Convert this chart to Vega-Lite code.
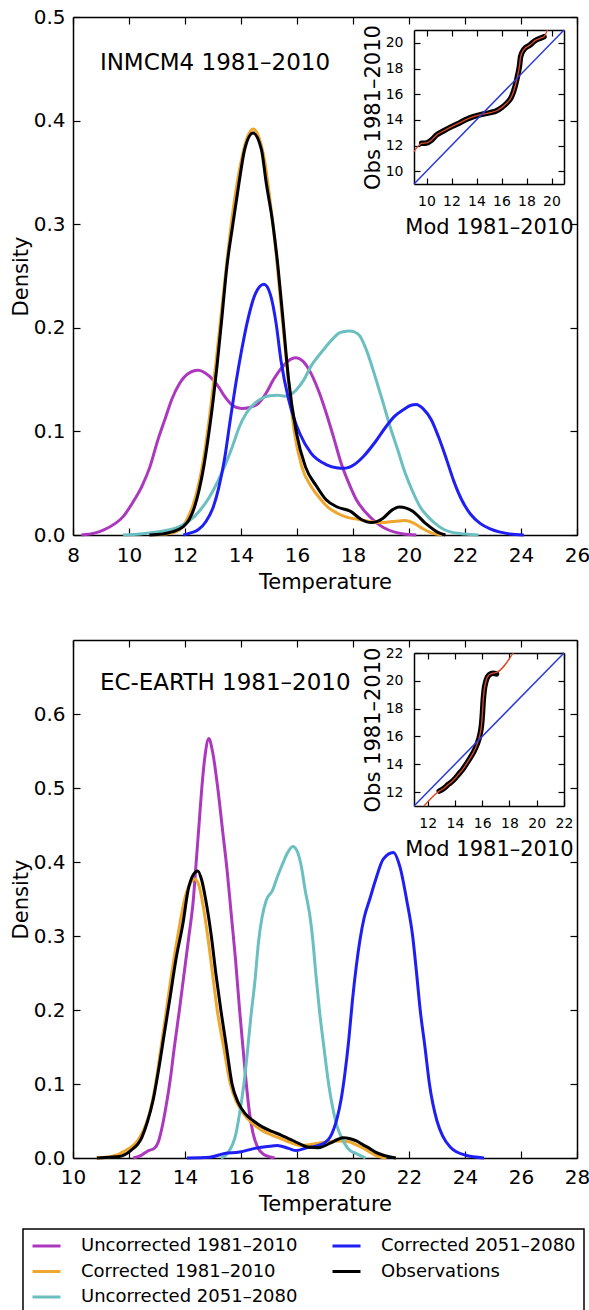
{
"$schema": "https://vega.github.io/schema/vega-lite/v6.json",
"width": 589, "height": 1310, "autosize": "none", "padding": 0, "background": "white",
"config": {
  "view": {"stroke": null},
  "axis": {"domainColor": "black", "domainWidth": 1.5, "tickColor": "black", "tickWidth": 1.2, "tickSize": -7, "labelColor": "black", "labelFont": "DejaVu Sans", "labelFontSize": 20, "titleFont": "DejaVu Sans", "titleFontSize": 21, "titleFontWeight": "normal", "titleColor": "black", "grid": false, "labelFlush": false, "labelOverlap": false},
  "legend": {"orient": "none", "legendX": 23, "legendY": 1229, "title": null, "columns": 2, "columnPadding": 33, "rowPadding": 7.5, "padding": 8, "clipHeight": 18,
             "strokeColor": "black", "strokeWidth": 1.5, "fillColor": "white", "symbolType": "stroke", "symbolSize": 784, "symbolStrokeWidth": 3,
             "labelFont": "DejaVu Sans", "labelFontSize": 18, "labelColor": "black", "labelOffset": 19, "labelLimit": 400}
},
"datasets": {
  "inm": [
    {"series":"Uncorrected 1981–2010","temp":8.3,"density":0},{"series":"Uncorrected 1981–2010","temp":8.8,"density":0.002},{"series":"Uncorrected 1981–2010","temp":9.1,"density":0.005},{"series":"Uncorrected 1981–2010","temp":9.5,"density":0.011},{"series":"Uncorrected 1981–2010","temp":9.8,"density":0.018},{"series":"Uncorrected 1981–2010","temp":10.1,"density":0.03},{"series":"Uncorrected 1981–2010","temp":10.46,"density":0.047},{"series":"Uncorrected 1981–2010","temp":10.75,"density":0.066},{"series":"Uncorrected 1981–2010","temp":11.0,"density":0.089},{"series":"Uncorrected 1981–2010","temp":11.3,"density":0.113},{"series":"Uncorrected 1981–2010","temp":11.53,"density":0.131},{"series":"Uncorrected 1981–2010","temp":11.8,"density":0.146},{"series":"Uncorrected 1981–2010","temp":12.07,"density":0.155},{"series":"Uncorrected 1981–2010","temp":12.47,"density":0.159},{"series":"Uncorrected 1981–2010","temp":12.88,"density":0.153},{"series":"Uncorrected 1981–2010","temp":13.2,"density":0.143},{"series":"Uncorrected 1981–2010","temp":13.41,"density":0.134},{"series":"Uncorrected 1981–2010","temp":13.7,"density":0.125},{"series":"Uncorrected 1981–2010","temp":14.02,"density":0.122},{"series":"Uncorrected 1981–2010","temp":14.3,"density":0.123},{"series":"Uncorrected 1981–2010","temp":14.62,"density":0.127},{"series":"Uncorrected 1981–2010","temp":14.9,"density":0.137},{"series":"Uncorrected 1981–2010","temp":15.16,"density":0.15},{"series":"Uncorrected 1981–2010","temp":15.5,"density":0.163},{"series":"Uncorrected 1981–2010","temp":15.8,"density":0.17},{"series":"Uncorrected 1981–2010","temp":15.97,"density":0.171},{"series":"Uncorrected 1981–2010","temp":16.2,"density":0.168},{"series":"Uncorrected 1981–2010","temp":16.5,"density":0.156},{"series":"Uncorrected 1981–2010","temp":16.8,"density":0.137},{"series":"Uncorrected 1981–2010","temp":17.04,"density":0.118},{"series":"Uncorrected 1981–2010","temp":17.3,"density":0.095},{"series":"Uncorrected 1981–2010","temp":17.58,"density":0.069},{"series":"Uncorrected 1981–2010","temp":17.85,"density":0.05},{"series":"Uncorrected 1981–2010","temp":18.12,"density":0.034},{"series":"Uncorrected 1981–2010","temp":18.45,"density":0.022},{"series":"Uncorrected 1981–2010","temp":18.79,"density":0.013},{"series":"Uncorrected 1981–2010","temp":19.1,"density":0.007},{"series":"Uncorrected 1981–2010","temp":19.46,"density":0.003},{"series":"Uncorrected 1981–2010","temp":19.8,"density":0.001},{"series":"Uncorrected 1981–2010","temp":20.26,"density":0},
    {"series":"Corrected 1981–2010","temp":10.86,"density":0},{"series":"Corrected 1981–2010","temp":11.3,"density":0.001},{"series":"Corrected 1981–2010","temp":11.67,"density":0.003},{"series":"Corrected 1981–2010","temp":12.07,"density":0.015},{"series":"Corrected 1981–2010","temp":12.3,"density":0.03},{"series":"Corrected 1981–2010","temp":12.47,"density":0.047},{"series":"Corrected 1981–2010","temp":12.7,"density":0.08},{"series":"Corrected 1981–2010","temp":12.88,"density":0.115},{"series":"Corrected 1981–2010","temp":13.1,"density":0.165},{"series":"Corrected 1981–2010","temp":13.3,"density":0.215},{"series":"Corrected 1981–2010","temp":13.5,"density":0.265},{"series":"Corrected 1981–2010","temp":13.75,"density":0.32},{"series":"Corrected 1981–2010","temp":14.0,"density":0.36},{"series":"Corrected 1981–2010","temp":14.2,"density":0.382},{"series":"Corrected 1981–2010","temp":14.43,"density":0.392},{"series":"Corrected 1981–2010","temp":14.65,"density":0.383},{"series":"Corrected 1981–2010","temp":14.85,"density":0.36},{"series":"Corrected 1981–2010","temp":15.05,"density":0.32},{"series":"Corrected 1981–2010","temp":15.26,"density":0.27},{"series":"Corrected 1981–2010","temp":15.45,"density":0.215},{"series":"Corrected 1981–2010","temp":15.65,"density":0.16},{"series":"Corrected 1981–2010","temp":15.9,"density":0.1},{"series":"Corrected 1981–2010","temp":16.17,"density":0.066},{"series":"Corrected 1981–2010","temp":16.5,"density":0.047},{"series":"Corrected 1981–2010","temp":16.8,"density":0.036},{"series":"Corrected 1981–2010","temp":17.1,"density":0.027},{"series":"Corrected 1981–2010","temp":17.44,"density":0.021},{"series":"Corrected 1981–2010","temp":17.8,"density":0.017},{"series":"Corrected 1981–2010","temp":18.2,"density":0.015},{"series":"Corrected 1981–2010","temp":18.6,"density":0.013},{"series":"Corrected 1981–2010","temp":19.0,"density":0.012},{"series":"Corrected 1981–2010","temp":19.4,"density":0.013},{"series":"Corrected 1981–2010","temp":19.86,"density":0.014},{"series":"Corrected 1981–2010","temp":20.2,"density":0.011},{"series":"Corrected 1981–2010","temp":20.5,"density":0.006},{"series":"Corrected 1981–2010","temp":20.8,"density":0.002},{"series":"Corrected 1981–2010","temp":21.2,"density":0},
    {"series":"Uncorrected 2051–2080","temp":9.79,"density":0},{"series":"Uncorrected 2051–2080","temp":10.4,"density":0.001},{"series":"Uncorrected 2051–2080","temp":11.0,"density":0.003},{"series":"Uncorrected 2051–2080","temp":11.8,"density":0.008},{"series":"Uncorrected 2051–2080","temp":12.34,"density":0.018},{"series":"Uncorrected 2051–2080","temp":12.88,"density":0.037},{"series":"Uncorrected 2051–2080","temp":13.41,"density":0.066},{"series":"Uncorrected 2051–2080","temp":13.7,"density":0.086},{"series":"Uncorrected 2051–2080","temp":13.95,"density":0.105},{"series":"Uncorrected 2051–2080","temp":14.2,"density":0.118},{"series":"Uncorrected 2051–2080","temp":14.49,"density":0.127},{"series":"Uncorrected 2051–2080","temp":14.75,"density":0.132},{"series":"Uncorrected 2051–2080","temp":15.03,"density":0.1345},{"series":"Uncorrected 2051–2080","temp":15.3,"density":0.135},{"series":"Uncorrected 2051–2080","temp":15.56,"density":0.134},{"series":"Uncorrected 2051–2080","temp":15.8,"density":0.136},{"series":"Uncorrected 2051–2080","temp":15.97,"density":0.14},{"series":"Uncorrected 2051–2080","temp":16.25,"density":0.15},{"series":"Uncorrected 2051–2080","temp":16.5,"density":0.163},{"series":"Uncorrected 2051–2080","temp":16.8,"density":0.174},{"series":"Uncorrected 2051–2080","temp":17.04,"density":0.182},{"series":"Uncorrected 2051–2080","temp":17.3,"density":0.19},{"series":"Uncorrected 2051–2080","temp":17.51,"density":0.195},{"series":"Uncorrected 2051–2080","temp":17.85,"density":0.197},{"series":"Uncorrected 2051–2080","temp":18.05,"density":0.196},{"series":"Uncorrected 2051–2080","temp":18.25,"density":0.192},{"series":"Uncorrected 2051–2080","temp":18.5,"density":0.177},{"series":"Uncorrected 2051–2080","temp":18.79,"density":0.153},{"series":"Uncorrected 2051–2080","temp":19.05,"density":0.13},{"series":"Uncorrected 2051–2080","temp":19.32,"density":0.105},{"series":"Uncorrected 2051–2080","temp":19.6,"density":0.082},{"series":"Uncorrected 2051–2080","temp":19.86,"density":0.06},{"series":"Uncorrected 2051–2080","temp":20.13,"density":0.042},{"series":"Uncorrected 2051–2080","temp":20.4,"density":0.027},{"series":"Uncorrected 2051–2080","temp":20.7,"density":0.017},{"series":"Uncorrected 2051–2080","temp":20.94,"density":0.011},{"series":"Uncorrected 2051–2080","temp":21.2,"density":0.006},{"series":"Uncorrected 2051–2080","temp":21.47,"density":0.003},{"series":"Uncorrected 2051–2080","temp":22.0,"density":0.001},{"series":"Uncorrected 2051–2080","temp":22.48,"density":0},
    {"series":"Corrected 2051–2080","temp":11.94,"density":0},{"series":"Corrected 2051–2080","temp":12.2,"density":0.002},{"series":"Corrected 2051–2080","temp":12.47,"density":0.005},{"series":"Corrected 2051–2080","temp":12.75,"density":0.013},{"series":"Corrected 2051–2080","temp":13.01,"density":0.027},{"series":"Corrected 2051–2080","temp":13.2,"density":0.045},{"series":"Corrected 2051–2080","temp":13.41,"density":0.073},{"series":"Corrected 2051–2080","temp":13.6,"density":0.108},{"series":"Corrected 2051–2080","temp":13.82,"density":0.147},{"series":"Corrected 2051–2080","temp":14.02,"density":0.178},{"series":"Corrected 2051–2080","temp":14.22,"density":0.205},{"series":"Corrected 2051–2080","temp":14.5,"density":0.232},{"series":"Corrected 2051–2080","temp":14.82,"density":0.242},{"series":"Corrected 2051–2080","temp":15.05,"density":0.232},{"series":"Corrected 2051–2080","temp":15.25,"density":0.205},{"series":"Corrected 2051–2080","temp":15.43,"density":0.168},{"series":"Corrected 2051–2080","temp":15.7,"density":0.131},{"series":"Corrected 2051–2080","temp":15.9,"density":0.112},{"series":"Corrected 2051–2080","temp":16.1,"density":0.098},{"series":"Corrected 2051–2080","temp":16.5,"density":0.079},{"series":"Corrected 2051–2080","temp":17.04,"density":0.068},{"series":"Corrected 2051–2080","temp":17.4,"density":0.065},{"series":"Corrected 2051–2080","temp":17.71,"density":0.0645},{"series":"Corrected 2051–2080","temp":18.05,"density":0.068},{"series":"Corrected 2051–2080","temp":18.38,"density":0.076},{"series":"Corrected 2051–2080","temp":18.8,"density":0.09},{"series":"Corrected 2051–2080","temp":19.19,"density":0.105},{"series":"Corrected 2051–2080","temp":19.5,"density":0.115},{"series":"Corrected 2051–2080","temp":19.8,"density":0.121},{"series":"Corrected 2051–2080","temp":20.05,"density":0.125},{"series":"Corrected 2051–2080","temp":20.26,"density":0.126},{"series":"Corrected 2051–2080","temp":20.5,"density":0.122},{"series":"Corrected 2051–2080","temp":20.8,"density":0.111},{"series":"Corrected 2051–2080","temp":21.05,"density":0.095},{"series":"Corrected 2051–2080","temp":21.34,"density":0.073},{"series":"Corrected 2051–2080","temp":21.6,"density":0.052},{"series":"Corrected 2051–2080","temp":21.88,"density":0.034},{"series":"Corrected 2051–2080","temp":22.2,"density":0.02},{"series":"Corrected 2051–2080","temp":22.55,"density":0.011},{"series":"Corrected 2051–2080","temp":22.9,"density":0.006},{"series":"Corrected 2051–2080","temp":23.22,"density":0.003},{"series":"Corrected 2051–2080","temp":23.6,"density":0.001},{"series":"Corrected 2051–2080","temp":24.1,"density":0},
    {"series":"Observations","temp":10.73,"density":0},{"series":"Observations","temp":11.2,"density":0.001},{"series":"Observations","temp":11.53,"density":0.003},{"series":"Observations","temp":11.94,"density":0.008},{"series":"Observations","temp":12.15,"density":0.015},{"series":"Observations","temp":12.34,"density":0.027},{"series":"Observations","temp":12.5,"density":0.043},{"series":"Observations","temp":12.67,"density":0.066},{"series":"Observations","temp":12.85,"density":0.098},{"series":"Observations","temp":13.01,"density":0.131},{"series":"Observations","temp":13.15,"density":0.165},{"series":"Observations","temp":13.3,"density":0.205},{"series":"Observations","temp":13.5,"density":0.26},{"series":"Observations","temp":13.71,"density":0.3},{"series":"Observations","temp":13.93,"density":0.34},{"series":"Observations","temp":14.13,"density":0.372},{"series":"Observations","temp":14.43,"density":0.388},{"series":"Observations","temp":14.73,"density":0.372},{"series":"Observations","temp":14.9,"density":0.34},{"series":"Observations","temp":15.14,"density":0.3},{"series":"Observations","temp":15.32,"density":0.259},{"series":"Observations","temp":15.5,"density":0.208},{"series":"Observations","temp":15.7,"density":0.15},{"series":"Observations","temp":15.97,"density":0.1},{"series":"Observations","temp":16.3,"density":0.066},{"series":"Observations","temp":16.7,"density":0.047},{"series":"Observations","temp":17.04,"density":0.034},{"series":"Observations","temp":17.44,"density":0.027},{"series":"Observations","temp":17.9,"density":0.023},{"series":"Observations","temp":18.3,"density":0.015},{"series":"Observations","temp":18.65,"density":0.012},{"series":"Observations","temp":19.06,"density":0.016},{"series":"Observations","temp":19.39,"density":0.024},{"series":"Observations","temp":19.66,"density":0.027},{"series":"Observations","temp":19.9,"density":0.026},{"series":"Observations","temp":20.13,"density":0.023},{"series":"Observations","temp":20.6,"density":0.011},{"series":"Observations","temp":21.07,"density":0.002},{"series":"Observations","temp":21.3,"density":0}
  ],
  "ec": [
    {"series":"Uncorrected 1981–2010","temp":12.15,"density":0},{"series":"Uncorrected 1981–2010","temp":12.45,"density":0.004},{"series":"Uncorrected 1981–2010","temp":12.7,"density":0.01},{"series":"Uncorrected 1981–2010","temp":12.9,"density":0.013},{"series":"Uncorrected 1981–2010","temp":13.05,"density":0.022},{"series":"Uncorrected 1981–2010","temp":13.13,"density":0.033},{"series":"Uncorrected 1981–2010","temp":13.3,"density":0.065},{"series":"Uncorrected 1981–2010","temp":13.47,"density":0.105},{"series":"Uncorrected 1981–2010","temp":13.62,"density":0.15},{"series":"Uncorrected 1981–2010","temp":13.8,"density":0.2},{"series":"Uncorrected 1981–2010","temp":13.97,"density":0.25},{"series":"Uncorrected 1981–2010","temp":14.14,"density":0.3},{"series":"Uncorrected 1981–2010","temp":14.3,"density":0.35},{"series":"Uncorrected 1981–2010","temp":14.4,"density":0.4},{"series":"Uncorrected 1981–2010","temp":14.5,"density":0.45},{"series":"Uncorrected 1981–2010","temp":14.6,"density":0.5},{"series":"Uncorrected 1981–2010","temp":14.72,"density":0.545},{"series":"Uncorrected 1981–2010","temp":14.85,"density":0.567},{"series":"Uncorrected 1981–2010","temp":14.98,"density":0.55},{"series":"Uncorrected 1981–2010","temp":15.17,"density":0.5},{"series":"Uncorrected 1981–2010","temp":15.35,"density":0.44},{"series":"Uncorrected 1981–2010","temp":15.5,"density":0.39},{"series":"Uncorrected 1981–2010","temp":15.65,"density":0.33},{"series":"Uncorrected 1981–2010","temp":15.8,"density":0.27},{"series":"Uncorrected 1981–2010","temp":15.95,"density":0.2},{"series":"Uncorrected 1981–2010","temp":16.08,"density":0.145},{"series":"Uncorrected 1981–2010","temp":16.19,"density":0.1},{"series":"Uncorrected 1981–2010","temp":16.3,"density":0.062},{"series":"Uncorrected 1981–2010","temp":16.42,"density":0.035},{"series":"Uncorrected 1981–2010","temp":16.6,"density":0.014},{"series":"Uncorrected 1981–2010","temp":16.8,"density":0.005},{"series":"Uncorrected 1981–2010","temp":17.2,"density":0},
    {"series":"Corrected 1981–2010","temp":10.85,"density":0},{"series":"Corrected 1981–2010","temp":11.38,"density":0.002},{"series":"Corrected 1981–2010","temp":11.92,"density":0.011},{"series":"Corrected 1981–2010","temp":12.32,"density":0.024},{"series":"Corrected 1981–2010","temp":12.55,"density":0.04},{"series":"Corrected 1981–2010","temp":12.73,"density":0.06},{"series":"Corrected 1981–2010","temp":12.95,"density":0.1},{"series":"Corrected 1981–2010","temp":13.13,"density":0.146},{"series":"Corrected 1981–2010","temp":13.3,"density":0.19},{"series":"Corrected 1981–2010","temp":13.47,"density":0.236},{"series":"Corrected 1981–2010","temp":13.65,"density":0.28},{"series":"Corrected 1981–2010","temp":13.8,"density":0.313},{"series":"Corrected 1981–2010","temp":14.0,"density":0.352},{"series":"Corrected 1981–2010","temp":14.2,"density":0.372},{"series":"Corrected 1981–2010","temp":14.34,"density":0.377},{"series":"Corrected 1981–2010","temp":14.5,"density":0.368},{"series":"Corrected 1981–2010","temp":14.61,"density":0.349},{"series":"Corrected 1981–2010","temp":14.81,"density":0.3},{"series":"Corrected 1981–2010","temp":14.98,"density":0.25},{"series":"Corrected 1981–2010","temp":15.15,"density":0.2},{"series":"Corrected 1981–2010","temp":15.38,"density":0.15},{"series":"Corrected 1981–2010","temp":15.62,"density":0.1},{"series":"Corrected 1981–2010","temp":15.85,"density":0.075},{"series":"Corrected 1981–2010","temp":16.09,"density":0.06},{"series":"Corrected 1981–2010","temp":16.4,"density":0.047},{"series":"Corrected 1981–2010","temp":16.76,"density":0.037},{"series":"Corrected 1981–2010","temp":17.1,"density":0.031},{"series":"Corrected 1981–2010","temp":17.43,"density":0.026},{"series":"Corrected 1981–2010","temp":17.75,"density":0.021},{"series":"Corrected 1981–2010","temp":18.1,"density":0.017},{"series":"Corrected 1981–2010","temp":18.45,"density":0.018},{"series":"Corrected 1981–2010","temp":18.77,"density":0.02},{"series":"Corrected 1981–2010","temp":19.1,"density":0.022},{"series":"Corrected 1981–2010","temp":19.44,"density":0.023},{"series":"Corrected 1981–2010","temp":19.85,"density":0.022},{"series":"Corrected 1981–2010","temp":20.1,"density":0.018},{"series":"Corrected 1981–2010","temp":20.38,"density":0.013},{"series":"Corrected 1981–2010","temp":20.6,"density":0.008},{"series":"Corrected 1981–2010","temp":20.79,"density":0.004},{"series":"Corrected 1981–2010","temp":21.2,"density":0},
    {"series":"Uncorrected 2051–2080","temp":15.28,"density":0},{"series":"Uncorrected 2051–2080","temp":15.55,"density":0.008},{"series":"Uncorrected 2051–2080","temp":15.82,"density":0.033},{"series":"Uncorrected 2051–2080","temp":15.95,"density":0.06},{"series":"Uncorrected 2051–2080","temp":16.09,"density":0.096},{"series":"Uncorrected 2051–2080","temp":16.22,"density":0.14},{"series":"Uncorrected 2051–2080","temp":16.35,"density":0.19},{"series":"Uncorrected 2051–2080","temp":16.5,"density":0.24},{"series":"Uncorrected 2051–2080","temp":16.62,"density":0.29},{"series":"Uncorrected 2051–2080","temp":16.75,"density":0.325},{"series":"Uncorrected 2051–2080","temp":16.9,"density":0.348},{"series":"Uncorrected 2051–2080","temp":17.13,"density":0.362},{"series":"Uncorrected 2051–2080","temp":17.3,"density":0.38},{"series":"Uncorrected 2051–2080","temp":17.49,"density":0.398},{"series":"Uncorrected 2051–2080","temp":17.67,"density":0.413},{"series":"Uncorrected 2051–2080","temp":17.85,"density":0.421},{"series":"Uncorrected 2051–2080","temp":18.0,"density":0.415},{"series":"Uncorrected 2051–2080","temp":18.15,"density":0.395},{"series":"Uncorrected 2051–2080","temp":18.3,"density":0.36},{"series":"Uncorrected 2051–2080","temp":18.45,"density":0.33},{"series":"Uncorrected 2051–2080","temp":18.55,"density":0.3},{"series":"Uncorrected 2051–2080","temp":18.67,"density":0.25},{"series":"Uncorrected 2051–2080","temp":18.8,"density":0.2},{"series":"Uncorrected 2051–2080","temp":18.96,"density":0.15},{"series":"Uncorrected 2051–2080","temp":19.13,"density":0.1},{"series":"Uncorrected 2051–2080","temp":19.38,"density":0.05},{"series":"Uncorrected 2051–2080","temp":19.71,"density":0.019},{"series":"Uncorrected 2051–2080","temp":19.9,"density":0.01},{"series":"Uncorrected 2051–2080","temp":20.12,"density":0.006},{"series":"Uncorrected 2051–2080","temp":20.45,"density":0},
    {"series":"Corrected 2051–2080","temp":14.07,"density":0},{"series":"Corrected 2051–2080","temp":14.88,"density":0.001},{"series":"Corrected 2051–2080","temp":15.41,"density":0.006},{"series":"Corrected 2051–2080","temp":15.95,"density":0.008},{"series":"Corrected 2051–2080","temp":16.49,"density":0.013},{"series":"Corrected 2051–2080","temp":17.03,"density":0.016},{"series":"Corrected 2051–2080","temp":17.29,"density":0.017},{"series":"Corrected 2051–2080","temp":17.7,"density":0.013},{"series":"Corrected 2051–2080","temp":17.97,"density":0.01},{"series":"Corrected 2051–2080","temp":18.37,"density":0.014},{"series":"Corrected 2051–2080","temp":18.77,"density":0.017},{"series":"Corrected 2051–2080","temp":19.0,"density":0.021},{"series":"Corrected 2051–2080","temp":19.18,"density":0.028},{"series":"Corrected 2051–2080","temp":19.32,"density":0.04},{"series":"Corrected 2051–2080","temp":19.44,"density":0.055},{"series":"Corrected 2051–2080","temp":19.58,"density":0.08},{"series":"Corrected 2051–2080","temp":19.71,"density":0.114},{"series":"Corrected 2051–2080","temp":19.85,"density":0.16},{"series":"Corrected 2051–2080","temp":19.98,"density":0.213},{"series":"Corrected 2051–2080","temp":20.12,"density":0.26},{"series":"Corrected 2051–2080","temp":20.25,"density":0.295},{"series":"Corrected 2051–2080","temp":20.4,"density":0.325},{"series":"Corrected 2051–2080","temp":20.6,"density":0.35},{"series":"Corrected 2051–2080","temp":20.8,"density":0.375},{"series":"Corrected 2051–2080","temp":21.08,"density":0.404},{"series":"Corrected 2051–2080","temp":21.44,"density":0.413},{"series":"Corrected 2051–2080","temp":21.68,"density":0.393},{"series":"Corrected 2051–2080","temp":21.92,"density":0.348},{"series":"Corrected 2051–2080","temp":22.13,"density":0.3},{"series":"Corrected 2051–2080","temp":22.27,"density":0.25},{"series":"Corrected 2051–2080","temp":22.4,"density":0.2},{"series":"Corrected 2051–2080","temp":22.57,"density":0.15},{"series":"Corrected 2051–2080","temp":22.73,"density":0.1},{"series":"Corrected 2051–2080","temp":23.0,"density":0.05},{"series":"Corrected 2051–2080","temp":23.2,"density":0.03},{"series":"Corrected 2051–2080","temp":23.47,"density":0.015},{"series":"Corrected 2051–2080","temp":24.0,"density":0.004},{"series":"Corrected 2051–2080","temp":24.68,"density":0},
    {"series":"Observations","temp":10.85,"density":0},{"series":"Observations","temp":11.3,"density":0.001},{"series":"Observations","temp":11.65,"density":0.002},{"series":"Observations","temp":12.06,"density":0.01},{"series":"Observations","temp":12.46,"density":0.028},{"series":"Observations","temp":12.65,"density":0.048},{"series":"Observations","temp":12.86,"density":0.078},{"series":"Observations","temp":13.06,"density":0.12},{"series":"Observations","temp":13.26,"density":0.168},{"series":"Observations","temp":13.47,"density":0.218},{"series":"Observations","temp":13.67,"density":0.267},{"series":"Observations","temp":13.94,"density":0.32},{"series":"Observations","temp":14.1,"density":0.36},{"series":"Observations","temp":14.3,"density":0.383},{"series":"Observations","temp":14.46,"density":0.388},{"series":"Observations","temp":14.6,"density":0.375},{"series":"Observations","temp":14.74,"density":0.349},{"series":"Observations","temp":14.94,"density":0.3},{"series":"Observations","temp":15.1,"density":0.25},{"series":"Observations","temp":15.28,"density":0.2},{"series":"Observations","temp":15.48,"density":0.15},{"series":"Observations","temp":15.68,"density":0.1},{"series":"Observations","temp":15.9,"density":0.075},{"series":"Observations","temp":16.15,"density":0.06},{"series":"Observations","temp":16.45,"density":0.05},{"series":"Observations","temp":16.76,"density":0.042},{"series":"Observations","temp":17.1,"density":0.036},{"series":"Observations","temp":17.43,"density":0.031},{"series":"Observations","temp":17.83,"density":0.024},{"series":"Observations","temp":18.1,"density":0.019},{"series":"Observations","temp":18.37,"density":0.015},{"series":"Observations","temp":18.77,"density":0.014},{"series":"Observations","temp":19.18,"density":0.02},{"series":"Observations","temp":19.45,"density":0.025},{"series":"Observations","temp":19.65,"density":0.0275},{"series":"Observations","temp":19.9,"density":0.026},{"series":"Observations","temp":20.12,"density":0.023},{"series":"Observations","temp":20.35,"density":0.018},{"series":"Observations","temp":20.59,"density":0.013},{"series":"Observations","temp":20.8,"density":0.008},{"series":"Observations","temp":21.06,"density":0.004},{"series":"Observations","temp":21.53,"density":0}
  ],
  "qq1": [
    {"mod":9.61,"obs":12.17},{"mod":10.0,"obs":12.2},{"mod":10.41,"obs":12.43},{"mod":10.81,"obs":12.82},{"mod":11.35,"obs":13.13},{"mod":12.01,"obs":13.47},{"mod":12.68,"obs":13.78},{"mod":13.21,"obs":14.04},{"mod":13.75,"obs":14.25},{"mod":14.41,"obs":14.43},{"mod":15.08,"obs":14.56},{"mod":15.61,"obs":14.71},{"mod":16.01,"obs":14.95},{"mod":16.41,"obs":15.29},{"mod":16.81,"obs":15.81},{"mod":17.08,"obs":16.58},{"mod":17.27,"obs":17.36},{"mod":17.43,"obs":18.14},{"mod":17.53,"obs":18.92},{"mod":17.8,"obs":19.49},{"mod":18.28,"obs":19.83},{"mod":18.68,"obs":20.17},{"mod":19.21,"obs":20.4},{"mod":19.4,"obs":20.48}
  ],
  "fit1": [
    {"mod":9.0,"obs":11.52},{"mod":9.61,"obs":12.17},{"mod":10.0,"obs":12.2},{"mod":10.41,"obs":12.43},{"mod":10.81,"obs":12.82},{"mod":11.35,"obs":13.13},{"mod":12.01,"obs":13.47},{"mod":12.68,"obs":13.78},{"mod":13.21,"obs":14.04},{"mod":13.75,"obs":14.25},{"mod":14.41,"obs":14.43},{"mod":15.08,"obs":14.56},{"mod":15.61,"obs":14.71},{"mod":16.01,"obs":14.95},{"mod":16.41,"obs":15.29},{"mod":16.81,"obs":15.81},{"mod":17.08,"obs":16.58},{"mod":17.27,"obs":17.36},{"mod":17.43,"obs":18.14},{"mod":17.53,"obs":18.92},{"mod":17.8,"obs":19.49},{"mod":18.28,"obs":19.83},{"mod":18.68,"obs":20.17},{"mod":19.21,"obs":20.4},{"mod":19.4,"obs":20.48},{"mod":19.67,"obs":21.0}
  ],
  "diag1": [{"mod":9,"obs":9},{"mod":21,"obs":21}],
  "qq2": [
    {"mod":12.85,"obs":12.07},{"mod":13.15,"obs":12.24},{"mod":13.51,"obs":12.55},{"mod":13.88,"obs":12.84},{"mod":14.24,"obs":13.25},{"mod":14.61,"obs":13.69},{"mod":14.98,"obs":14.24},{"mod":15.34,"obs":14.82},{"mod":15.63,"obs":15.45},{"mod":15.83,"obs":16.1},{"mod":15.95,"obs":16.82},{"mod":16.02,"obs":17.66},{"mod":16.07,"obs":18.51},{"mod":16.15,"obs":19.35},{"mod":16.27,"obs":19.95},{"mod":16.51,"obs":20.43},{"mod":16.8,"obs":20.55},{"mod":17.05,"obs":20.5}
  ],
  "fit2": [
    {"mod":11.73,"obs":11.0},{"mod":12.85,"obs":12.07},{"mod":13.15,"obs":12.24},{"mod":13.51,"obs":12.55},{"mod":13.88,"obs":12.84},{"mod":14.24,"obs":13.25},{"mod":14.61,"obs":13.69},{"mod":14.98,"obs":14.24},{"mod":15.34,"obs":14.82},{"mod":15.63,"obs":15.45},{"mod":15.83,"obs":16.1},{"mod":15.95,"obs":16.82},{"mod":16.02,"obs":17.66},{"mod":16.07,"obs":18.51},{"mod":16.15,"obs":19.35},{"mod":16.27,"obs":19.95},{"mod":16.51,"obs":20.43},{"mod":16.8,"obs":20.55},{"mod":17.05,"obs":20.6},{"mod":18.27,"obs":22.0}
  ],
  "diag2": [{"mod":11,"obs":11},{"mod":22,"obs":22}]
},
"resolve": {"scale": {"x": "independent", "y": "independent"}, "axis": {"x": "independent", "y": "independent"}},
"layer": [
  {
    "data": {"name": "inm"},
    "mark": {"type": "line", "strokeWidth": 3, "interpolate": "monotone"},
    "encoding": {
      "x": {"field": "temp", "type": "quantitative", "scale": {"domain": [8, 26], "range": [73, 577], "nice": false, "zero": false},
            "axis": {"orient": "bottom", "offset": -775, "values": [8,10,12,14,16,18,20,22,24,26], "title": "Temperature", "labelPadding": 17, "titlePadding": 6}},
      "y": {"field": "density", "type": "quantitative", "scale": {"domain": [0, 0.5], "range": [535, 17], "nice": false, "zero": false},
            "axis": {"orient": "left", "offset": -73, "values": [0,0.1,0.2,0.3,0.4,0.5], "format": ".1f", "title": "Density", "labelPadding": 15, "titlePadding": 2}},
      "color": {"field": "series", "type": "nominal",
                "scale": {"domain": ["Uncorrected 1981–2010","Corrected 1981–2010","Uncorrected 2051–2080","Corrected 2051–2080","Observations"],
                          "range": ["#AC38BE","#EEA62C","#6CBFC0","#1E1EF5","#000000"]}}
    }
  },
  {
    "data": {"values": [{"label": "INMCM4 1981–2010"}]},
    "mark": {"type": "text", "font": "DejaVu Sans", "fontSize": 23, "align": "left", "baseline": "alphabetic", "color": "black"},
    "encoding": {
      "x": {"datum": 8.96, "type": "quantitative", "scale": {"domain": [8, 26], "range": [73, 577], "nice": false, "zero": false},
            "axis": {"orient": "top", "offset": -17, "values": [8,10,12,14,16,18,20,22,24,26], "labels": false, "title": null}},
      "y": {"datum": 0.4488, "type": "quantitative", "scale": {"domain": [0, 0.5], "range": [535, 17], "nice": false, "zero": false},
            "axis": {"orient": "right", "offset": -12, "values": [0,0.1,0.2,0.3,0.4,0.5], "labels": false, "title": null}},
      "text": {"field": "label"}
    }
  },
  {
    "data": {"name": "qq1"},
    "mark": {"type": "line", "strokeWidth": 5.5, "color": "black", "strokeCap": "round", "strokeJoin": "round", "interpolate": "monotone"},
    "encoding": {
      "x": {"field": "mod", "type": "quantitative", "scale": {"domain": [9, 21], "range": [414, 564], "nice": false, "zero": false}, "axis": null},
      "y": {"field": "obs", "type": "quantitative", "scale": {"domain": [9, 21], "range": [184, 30], "nice": false, "zero": false}, "axis": null}
    }
  },
  {
    "data": {"name": "fit1"},
    "mark": {"type": "line", "strokeWidth": 1.3, "color": "#DD4A2A", "interpolate": "monotone"},
    "encoding": {
      "x": {"field": "mod", "type": "quantitative", "scale": {"domain": [9, 21], "range": [414, 564], "nice": false, "zero": false},
            "axis": {"orient": "top", "offset": -30, "values": [10,12,14,16,18,20], "labels": false, "title": null, "tickSize": -6}},
      "y": {"field": "obs", "type": "quantitative", "scale": {"domain": [9, 21], "range": [184, 30], "nice": false, "zero": false},
            "axis": {"orient": "right", "offset": -25, "values": [10,12,14,16,18,20], "labels": false, "title": null, "tickSize": -6}}
    }
  },
  {
    "data": {"name": "diag1"},
    "mark": {"type": "line", "strokeWidth": 1.5, "color": "#2B3AD8"},
    "encoding": {
      "x": {"field": "mod", "type": "quantitative", "scale": {"domain": [9, 21], "range": [414, 564], "nice": false, "zero": false},
            "axis": {"orient": "bottom", "offset": -1126, "values": [10,12,14,16,18,20], "title": "Mod 1981–2010", "tickSize": -6, "labelFontSize": 14, "labelPadding": 16, "titlePadding": 8}},
      "y": {"field": "obs", "type": "quantitative", "scale": {"domain": [9, 21], "range": [184, 30], "nice": false, "zero": false},
            "axis": {"orient": "left", "offset": -414, "values": [10,12,14,16,18,20], "title": "Obs 1981–2010", "tickSize": -6, "labelFontSize": 14, "labelPadding": 17, "titlePadding": 2}}
    }
  },
  {
    "data": {"name": "ec"},
    "mark": {"type": "line", "strokeWidth": 3, "interpolate": "monotone"},
    "encoding": {
      "x": {"field": "temp", "type": "quantitative", "scale": {"domain": [10, 28], "range": [73, 577], "nice": false, "zero": false},
            "axis": {"orient": "bottom", "offset": -152, "values": [10,12,14,16,18,20,22,24,26,28], "title": "Temperature", "labelPadding": 16, "titlePadding": 6}},
      "y": {"field": "density", "type": "quantitative", "scale": {"domain": [0, 0.7], "range": [1158, 640], "nice": false, "zero": false},
            "axis": {"orient": "left", "offset": -73, "values": [0,0.1,0.2,0.3,0.4,0.5,0.6], "format": ".1f", "title": "Density", "labelPadding": 15, "titlePadding": 2}},
      "color": {"field": "series", "type": "nominal",
                "scale": {"domain": ["Uncorrected 1981–2010","Corrected 1981–2010","Uncorrected 2051–2080","Corrected 2051–2080","Observations"],
                          "range": ["#AC38BE","#EEA62C","#6CBFC0","#1E1EF5","#000000"]}}
    }
  },
  {
    "data": {"values": [{"label": "EC-EARTH 1981–2010"}]},
    "mark": {"type": "text", "font": "DejaVu Sans", "fontSize": 23, "align": "left", "baseline": "alphabetic", "color": "black"},
    "encoding": {
      "x": {"datum": 10.96, "type": "quantitative", "scale": {"domain": [10, 28], "range": [73, 577], "nice": false, "zero": false},
            "axis": {"orient": "top", "offset": -640, "values": [10,12,14,16,18,20,22,24,26,28], "labels": false, "title": null}},
      "y": {"datum": 0.6324, "type": "quantitative", "scale": {"domain": [0, 0.7], "range": [1158, 640], "nice": false, "zero": false},
            "axis": {"orient": "right", "offset": -12, "values": [0,0.1,0.2,0.3,0.4,0.5,0.6], "labels": false, "title": null}},
      "text": {"field": "label"}
    }
  },
  {
    "data": {"name": "qq2"},
    "mark": {"type": "line", "strokeWidth": 5.5, "color": "black", "strokeCap": "round", "strokeJoin": "round", "interpolate": "monotone"},
    "encoding": {
      "x": {"field": "mod", "type": "quantitative", "scale": {"domain": [11, 22], "range": [414, 564], "nice": false, "zero": false}, "axis": null},
      "y": {"field": "obs", "type": "quantitative", "scale": {"domain": [11, 22], "range": [806, 653], "nice": false, "zero": false}, "axis": null}
    }
  },
  {
    "data": {"name": "fit2"},
    "mark": {"type": "line", "strokeWidth": 1.3, "color": "#DD4A2A", "interpolate": "monotone"},
    "encoding": {
      "x": {"field": "mod", "type": "quantitative", "scale": {"domain": [11, 22], "range": [414, 564], "nice": false, "zero": false},
            "axis": {"orient": "top", "offset": -653, "values": [12,14,16,18,20,22], "labels": false, "title": null, "tickSize": -6}},
      "y": {"field": "obs", "type": "quantitative", "scale": {"domain": [11, 22], "range": [806, 653], "nice": false, "zero": false},
            "axis": {"orient": "right", "offset": -25, "values": [12,14,16,18,20,22], "labels": false, "title": null, "tickSize": -6}}
    }
  },
  {
    "data": {"name": "diag2"},
    "mark": {"type": "line", "strokeWidth": 1.5, "color": "#2B3AD8"},
    "encoding": {
      "x": {"field": "mod", "type": "quantitative", "scale": {"domain": [11, 22], "range": [414, 564], "nice": false, "zero": false},
            "axis": {"orient": "bottom", "offset": -504, "values": [12,14,16,18,20,22], "title": "Mod 1981–2010", "tickSize": -6, "labelFontSize": 14, "labelPadding": 16, "titlePadding": 8}},
      "y": {"field": "obs", "type": "quantitative", "scale": {"domain": [11, 22], "range": [806, 653], "nice": false, "zero": false},
            "axis": {"orient": "left", "offset": -414, "values": [12,14,16,18,20,22], "title": "Obs 1981–2010", "tickSize": -6, "labelFontSize": 14, "labelPadding": 17, "titlePadding": 2}}
    }
  }
]
}
